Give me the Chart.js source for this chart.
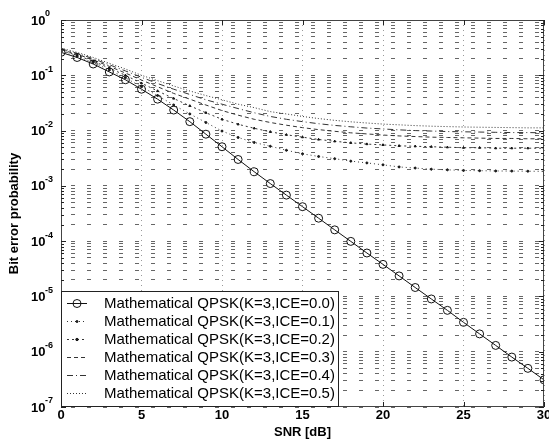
<!DOCTYPE html>
<html>
<head>
<meta charset="utf-8">
<script src="https://cdn.jsdelivr.net/npm/chart.js@4.4.1/dist/chart.umd.min.js"></script>
<style>
  html, body { margin: 0; padding: 0; background: #fff; }
  #wrap { width: 549px; height: 441px; }
</style>
</head>
<body>
<div id="wrap"><canvas id="ber" width="549" height="441"></canvas></div>
<script>
// SNR axis (dB)
const snr = [0, 1, 2, 3, 4, 5, 6, 7, 8, 9, 10, 11, 12, 13, 14, 15, 16, 17, 18, 19, 20,
             21, 22, 23, 24, 25, 26, 27, 28, 29, 30];

// bit error probability, one list per ICE value
const ice00 = [2.6e-1, 2.1e-1, 1.6e-1, 1.15e-1, 8.3e-2, 5.6e-2, 3.7e-2, 2.35e-2, 1.45e-2, 8.6e-3,
               5.1e-3, 3.0e-3, 1.8e-3, 1.1e-3, 6.8e-4, 4.2e-4, 2.6e-4, 1.6e-4, 9.9e-5, 6.1e-5,
               3.8e-5, 2.35e-5, 1.45e-5, 9.0e-6, 5.6e-6, 3.4e-6, 2.1e-6, 1.3e-6, 8.0e-7, 5.0e-7, 3.1e-7];
const ice01 = [2.7e-1, 2.2e-1, 1.7e-1, 1.25e-1, 9.0e-2, 6.2e-2, 4.3e-2, 2.9e-2, 2.0e-2, 1.4e-2,
               9.8e-3, 7.5e-3, 6.1e-3, 5.2e-3, 4.4e-3, 3.8e-3, 3.4e-3, 3.1e-3, 2.8e-3, 2.6e-3,
               2.4e-3, 2.2e-3, 2.1e-3, 2.0e-3, 1.95e-3, 1.9e-3, 1.88e-3, 1.86e-3, 1.85e-3, 1.84e-3, 1.83e-3];
const ice02 = [2.8e-1, 2.3e-1, 1.8e-1, 1.35e-1, 1.0e-1, 7.2e-2, 5.2e-2, 3.8e-2, 2.8e-2, 2.1e-2,
               1.6e-2, 1.3e-2, 1.1e-2, 9.5e-3, 8.4e-3, 7.6e-3, 6.9e-3, 6.4e-3, 6.0e-3, 5.7e-3,
               5.5e-3, 5.3e-3, 5.2e-3, 5.1e-3, 5.0e-3, 4.9e-3, 4.9e-3, 4.8e-3, 4.8e-3, 4.8e-3, 4.8e-3];
const ice03 = [2.9e-1, 2.4e-1, 1.9e-1, 1.45e-1, 1.1e-1, 8.2e-2, 6.2e-2, 4.7e-2, 3.7e-2, 2.9e-2,
               2.3e-2, 1.9e-2, 1.6e-2, 1.4e-2, 1.25e-2, 1.13e-2, 1.04e-2, 9.7e-3, 9.1e-3, 8.7e-3,
               8.3e-3, 8.0e-3, 7.8e-3, 7.6e-3, 7.5e-3, 7.4e-3, 7.3e-3, 7.2e-3, 7.2e-3, 7.1e-3, 7.1e-3];
const ice04 = [3.0e-1, 2.5e-1, 2.0e-1, 1.55e-1, 1.2e-1, 9.2e-2, 7.1e-2, 5.6e-2, 4.5e-2, 3.6e-2,
               3.0e-2, 2.5e-2, 2.1e-2, 1.8e-2, 1.6e-2, 1.45e-2, 1.33e-2, 1.24e-2, 1.17e-2, 1.11e-2,
               1.07e-2, 1.03e-2, 1.0e-2, 9.8e-3, 9.6e-3, 9.5e-3, 9.4e-3, 9.3e-3, 9.2e-3, 9.2e-3, 9.1e-3];
const ice05 = [3.1e-1, 2.6e-1, 2.1e-1, 1.65e-1, 1.3e-1, 1.0e-1, 8.0e-2, 6.4e-2, 5.2e-2, 4.3e-2,
               3.6e-2, 3.0e-2, 2.6e-2, 2.2e-2, 2.0e-2, 1.8e-2, 1.65e-2, 1.53e-2, 1.44e-2, 1.37e-2,
               1.31e-2, 1.27e-2, 1.23e-2, 1.2e-2, 1.18e-2, 1.16e-2, 1.15e-2, 1.14e-2, 1.13e-2, 1.12e-2, 1.12e-2];

const seriesNames = ['Mathematical QPSK(K=3,ICE=0.0)', 'Mathematical QPSK(K=3,ICE=0.1)',
                     'Mathematical QPSK(K=3,ICE=0.2)', 'Mathematical QPSK(K=3,ICE=0.3)',
                     'Mathematical QPSK(K=3,ICE=0.4)', 'Mathematical QPSK(K=3,ICE=0.5)'];
const xTicks = [0, 5, 10, 15, 20, 25, 30];
const yExponents = [0, -1, -2, -3, -4, -5, -6, -7];

const FONT = '"Liberation Sans", Arial, Helvetica, sans-serif';

function toPoints(values) {
    return snr.map((s, i) => ({ x: s, y: values[i] }));
}

// line styles, roughly like the matlab ones
const styles = [
    { dash: [], radius: 4, style: 'circle', fill: 'rgba(0,0,0,0)' },
    { dash: [1, 3], radius: 1, style: 'circle', fill: '#222' },
    { dash: [2, 3], radius: 1.2, style: 'triangle', fill: '#222' },
    { dash: [4, 3], radius: 0, style: 'circle', fill: '#222' },
    { dash: [6, 3, 1, 3], radius: 0, style: 'circle', fill: '#222' },
    { dash: [1, 2], radius: 0, style: 'circle', fill: '#222' }
];

const allSeries = [ice00, ice01, ice02, ice03, ice04, ice05];
const datasets = allSeries.map((vals, i) => ({
    label: seriesNames[i],
    data: toPoints(vals),
    borderColor: i === 0 ? '#111' : '#333',
    borderWidth: 1,
    borderDash: styles[i].dash,
    pointRadius: styles[i].radius,
    pointStyle: styles[i].style,
    pointBorderColor: '#111',
    pointBackgroundColor: styles[i].fill,
    pointBorderWidth: 1,
    tension: 0,
    fill: false
}));

// axes box, inside ticks, y labels with superscripts, titles and legend
const berDecor = {
    id: 'berDecor',
    afterDraw(chart) {
        const ctx = chart.ctx;
        const a = chart.chartArea;
        const xs = chart.scales.x;
        const ys = chart.scales.y;
        ctx.save();

        // box
        ctx.strokeStyle = '#444';
        ctx.lineWidth = 1;
        ctx.setLineDash([]);
        ctx.strokeRect(Math.round(a.left) + 0.5, Math.round(a.top) + 0.5,
                       Math.round(a.right - a.left) - 1, Math.round(a.bottom - a.top) - 1);

        // tick marks inside the box
        ctx.strokeStyle = '#222';
        ys.ticks.forEach(t => {
            const py = Math.round(ys.getPixelForValue(t.value)) + 0.5;
            const len = t.major ? 5 : 3;
            ctx.beginPath();
            ctx.moveTo(a.left, py); ctx.lineTo(a.left + len, py);
            ctx.moveTo(a.right, py); ctx.lineTo(a.right - len, py);
            ctx.stroke();
        });
        xTicks.forEach(v => {
            const px = Math.round(xs.getPixelForValue(v)) + 0.5;
            ctx.beginPath();
            ctx.moveTo(px, a.bottom); ctx.lineTo(px, a.bottom - 5);
            ctx.moveTo(px, a.top); ctx.lineTo(px, a.top + 5);
            ctx.stroke();
        });

        // y tick labels 10^n
        ctx.fillStyle = '#000';
        ctx.textBaseline = 'middle';
        ctx.textAlign = 'left';
        yExponents.forEach(e => {
            const py = ys.getPixelForValue(Math.pow(10, e));
            ctx.font = 'bold 13px ' + FONT;
            ctx.fillText('10', 31, py + 1);
            ctx.font = 'bold 9px ' + FONT;
            ctx.fillText(String(e), 45, py - 6);
        });

        // axis titles
        ctx.font = 'bold 13px ' + FONT;
        ctx.textAlign = 'center';
        ctx.fillText('SNR [dB]', (a.left + a.right) / 2, 432);
        ctx.save();
        ctx.translate(14, (a.top + a.bottom) / 2);
        ctx.rotate(-Math.PI / 2);
        ctx.fillText('Bit error probability', 0, 0);
        ctx.restore();

        // legend
        const lx = Math.round(a.left) + 0.5, ly = 291.5;
        const lw = 277, lh = Math.round(a.bottom) - 292;
        ctx.fillStyle = '#fff';
        ctx.fillRect(lx, ly, lw, lh);
        ctx.strokeStyle = '#222';
        ctx.setLineDash([]);
        ctx.strokeRect(lx, ly, lw, lh);
        ctx.font = '15px ' + FONT;
        ctx.textAlign = 'left';
        datasets.forEach((ds, i) => {
            const cy = 303 + i * 18;
            ctx.strokeStyle = ds.borderColor;
            ctx.setLineDash(ds.borderDash);
            ctx.beginPath();
            ctx.moveTo(67, cy + 0.5); ctx.lineTo(87, cy + 0.5);
            ctx.stroke();
            ctx.setLineDash([]);
            if (ds.pointRadius > 0) {
                ctx.beginPath();
                ctx.arc(77, cy + 0.5, ds.pointRadius, 0, Math.PI * 2);
                ctx.fillStyle = ds.pointBackgroundColor;
                ctx.fill();
                ctx.strokeStyle = '#111';
                ctx.stroke();
            }
            ctx.fillStyle = '#000';
            ctx.fillText(ds.label, 104, cy + 1);
        });

        ctx.restore();
    }
};

new Chart(document.getElementById('ber'), {
    type: 'line',
    data: { datasets: datasets },
    options: {
        responsive: false,
        animation: false,
        layout: { padding: { left: 61, right: 3, top: 20, bottom: 14 } },
        plugins: { legend: { display: false }, tooltip: { enabled: false } },
        scales: {
            x: {
                type: 'linear',
                min: 0,
                max: 30,
                afterBuildTicks: (scale) => { scale.ticks = xTicks.map(v => ({ value: v })); },
                afterFit: (scale) => { scale.height = 20; scale.paddingLeft = 0; scale.paddingRight = 0; },
                ticks: { color: '#000', padding: 1, font: { family: FONT, size: 13, weight: 'bold' } },
                grid: { color: '#999', drawTicks: false },
                border: { display: false, dash: [1, 4] }
            },
            y: {
                type: 'logarithmic',
                min: 1e-7,
                max: 1,
                afterBuildTicks: (scale) => {
                    const t = [];
                    for (let e = -7; e < 0; e++) {
                        for (let m = 1; m < 10; m++) t.push({ value: m * Math.pow(10, e), major: m === 1 });
                    }
                    t.push({ value: 1, major: true });
                    scale.ticks = t;
                },
                afterFit: (scale) => { scale.width = 0; },
                ticks: { display: false },
                grid: { color: '#666', drawTicks: false },
                border: { display: false, dash: [4, 12], dashOffset: 6 }
            }
        }
    },
    plugins: [berDecor]
});
</script>
</body>
</html>
